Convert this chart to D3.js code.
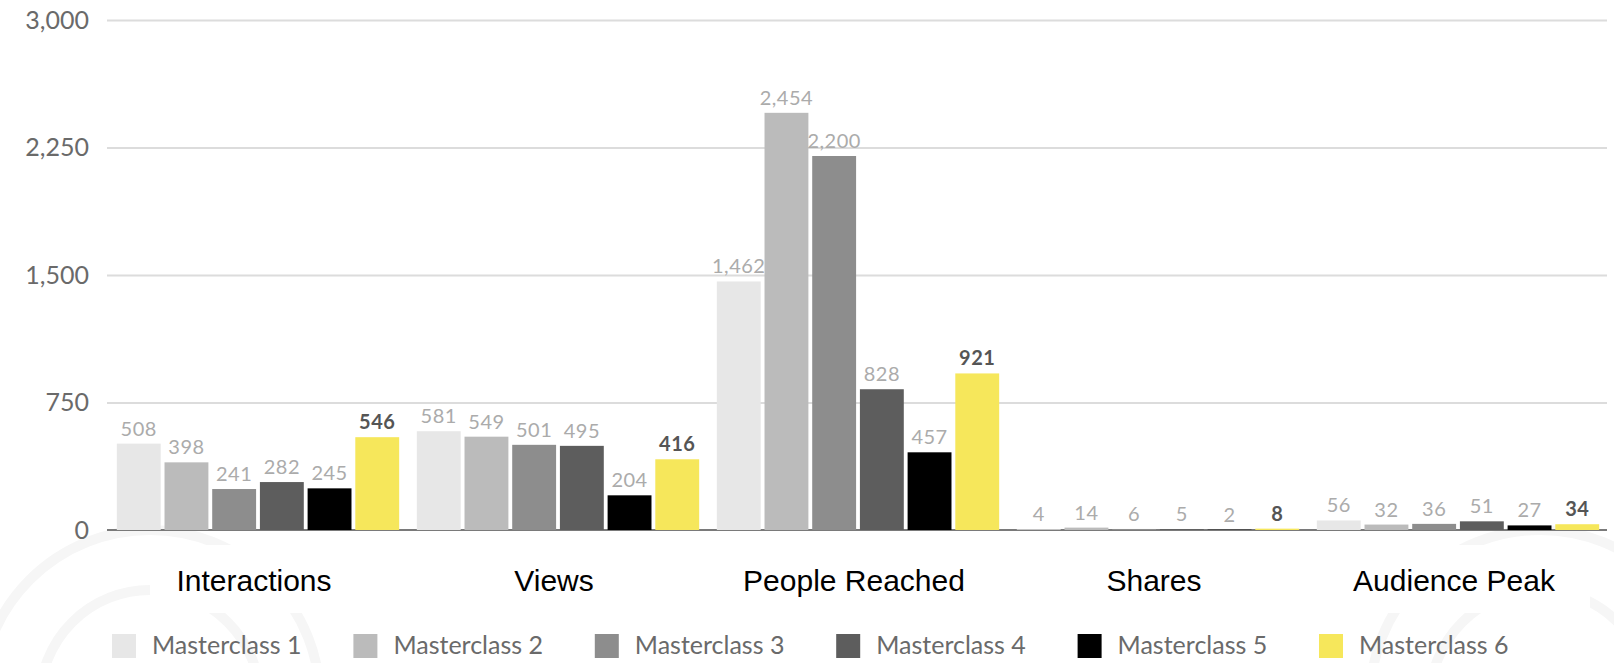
<!DOCTYPE html>
<html>
<head>
<meta charset="utf-8">
<script src="https://cdn.jsdelivr.net/npm/d3@7"></script>
<style>
    body { margin: 0; background: #ffffff; }
    svg { display: block; }
    .tickText { font-family: "Lato", "Open Sans", sans-serif; font-size: 25px; fill: #6a6a6a; }
    .valueText { font-family: "Lato", "Open Sans", sans-serif; font-size: 20px; fill: #ababab; text-anchor: middle; letter-spacing: 0.5px; }
    .valueText.bold { font-weight: bold; fill: #555555; }
    .catText { font-family: "Liberation Sans", Arial, sans-serif; font-size: 30px; fill: #000; text-anchor: middle; }
    .legendText { font-family: "Lato", "Open Sans", sans-serif; font-size: 25px; fill: #6a6a6a; }
</style>
</head>
<body>
<div id="chart"></div>
<script>
// chart data
var categories = ["Interactions", "Views", "People Reached", "Shares", "Audience Peak"];
var seriesNames = ["Masterclass 1", "Masterclass 2", "Masterclass 3", "Masterclass 4", "Masterclass 5", "Masterclass 6"];
var masterclass1 = [508, 581, 1462, 4, 56];
var masterclass2 = [398, 549, 2454, 14, 32];
var masterclass3 = [241, 501, 2200, 6, 36];
var masterclass4 = [282, 495, 828, 5, 51];
var masterclass5 = [245, 204, 457, 2, 27];
var masterclass6 = [546, 416, 921, 8, 34];
var yTicks = [0, 750, 1500, 2250, 3000];

var seriesValues = [masterclass1, masterclass2, masterclass3, masterclass4, masterclass5, masterclass6];
var barColors = ["#e7e7e7", "#bbbbbb", "#8d8d8d", "#5d5d5d", "#000000", "#f6e75b"];

// svg area
var svgWidth = 1614;
var svgHeight = 663;

var plotLeft = 107;
var plotRight = 1607;
var plotTop = 20;
var plotBottom = 530;

var svg = d3.select("#chart").append("svg")
    .attr("width", svgWidth)
    .attr("height", svgHeight);

// faint watermark behind the chart
var mark = svg.append("g")
    .attr("fill", "none")
    .attr("stroke", "#f6f6f6")
    .attr("stroke-width", 10);
mark.append("circle").attr("cx", 150).attr("cy", 700).attr("r", 170);
mark.append("circle").attr("cx", 150).attr("cy", 700).attr("r", 110);
mark.append("circle").attr("cx", 1540).attr("cy", 700).attr("r", 170);
mark.append("circle").attr("cx", 1540).attr("cy", 700).attr("r", 110);
svg.append("rect")
    .attr("x", 150).attr("y", 545)
    .attr("width", 1440).attr("height", 68)
    .attr("fill", "#ffffff");

// scales
var yScale = d3.scaleLinear()
    .domain([0, 3000])
    .range([plotBottom, plotTop]);

var x0 = d3.scaleBand()
    .domain(categories)
    .range([plotLeft, plotRight]);

var x1 = d3.scaleBand()
    .domain(seriesNames)
    .range([6, x0.bandwidth() - 4])
    .padding(0.08);

// gridlines
var grid = svg.append("g")
    .attr("transform", `translate(${plotLeft}, 0)`)
    .call(d3.axisLeft(yScale)
        .tickValues(yTicks.filter(d => d > 0))
        .tickSize(-(plotRight - plotLeft))
        .tickFormat(""));
grid.select(".domain").remove();
grid.selectAll("line").attr("stroke", "#dcdcdc").attr("stroke-width", 2);

// y axis labels
var yAxis = svg.append("g")
    .attr("transform", `translate(${plotLeft}, 0)`)
    .call(d3.axisLeft(yScale)
        .tickValues(yTicks)
        .tickSize(0)
        .tickPadding(18)
        .tickFormat(d3.format(",")));
yAxis.select(".domain").remove();
yAxis.selectAll("text")
    .attr("class", "tickText")
    .attr("font-family", null)
    .attr("font-size", null)
    .attr("fill", null);

// zero line
svg.append("line")
    .attr("x1", plotLeft).attr("x2", plotRight)
    .attr("y1", yScale(0)).attr("y2", yScale(0))
    .attr("stroke", "#7a7a7a")
    .attr("stroke-width", 2);

// bars per category
var groups = svg.selectAll(".cat")
    .data(categories)
    .enter().append("g")
    .attr("class", "cat")
    .attr("transform", d => `translate(${x0(d)}, 0)`);

groups.each(function (cat, ci) {
    var g = d3.select(this);
    seriesNames.forEach(function (name, si) {
        var v = seriesValues[si][ci];
        g.append("rect")
            .attr("x", x1(name))
            .attr("y", yScale(v))
            .attr("width", x1.bandwidth())
            .attr("height", yScale(0) - yScale(v))
            .attr("fill", barColors[si]);
        g.append("text")
            .attr("class", si === 5 ? "valueText bold" : "valueText")
            .attr("x", x1(name) + x1.bandwidth() / 2)
            .attr("y", yScale(v) - 8)
            .text(d3.format(",")(v));
    });
});

// category labels
svg.selectAll(".catText")
    .data(categories)
    .enter().append("text")
    .attr("class", "catText")
    .attr("x", d => x0(d) + x0.bandwidth() / 2 - 3)
    .attr("y", 591)
    .text(d => d);

// legend
var legend = svg.selectAll(".legendItem")
    .data(seriesNames)
    .enter().append("g")
    .attr("class", "legendItem")
    .attr("transform", (d, i) => `translate(${112 + i * 241.4}, 634)`);

legend.append("rect")
    .attr("width", 24)
    .attr("height", 24)
    .attr("fill", (d, i) => barColors[i]);

legend.append("text")
    .attr("class", "legendText")
    .attr("x", 40)
    .attr("y", 20)
    .text(d => d);
</script>
</body>
</html>
